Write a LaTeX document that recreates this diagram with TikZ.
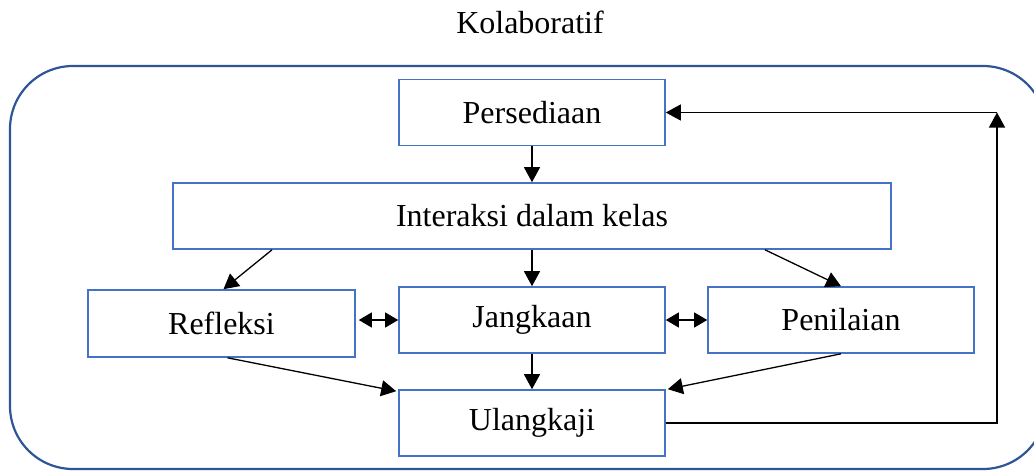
\documentclass[tikz,border=0pt]{standalone}
\usepackage{fontspec}
\setmainfont{Liberation Serif}
\usetikzlibrary{arrows.meta,calc}
\definecolor{boxblue}{HTML}{4472C4}
\definecolor{frameblue}{HTML}{2F5597}
\begin{document}
\begin{tikzpicture}[x=1pt,y=-1pt,
  stepbox/.style={draw=boxblue,line width=1.6pt,minimum width=266pt,minimum height=66pt,inner sep=0pt,font=\fontsize{32}{36}\selectfont},
  conn/.style={line width=1.3pt,-{Triangle[length=15pt,width=16pt]}},
  dconn/.style={line width=1.3pt,{Triangle[length=13pt,width=15pt]}-{Triangle[length=13pt,width=15pt]}}]
\useasboundingbox (0,0) rectangle (1034,471);
\draw[frameblue,line width=2.2pt,rounded corners=63pt] (10,66) rectangle (1046,469);
\node[font=\fontsize{32}{36}\selectfont] (title) at (530,22) {Kolaboratif};
\node[stepbox] (Persediaan) at (532,112.5) {Persediaan};
\node[stepbox,minimum width=718pt] (Interaksi) at (532,216) {Interaksi dalam kelas};
\node[stepbox,minimum width=267pt,minimum height=67pt] (Refleksi) at (221.5,323.5) {Refleksi};
\node[stepbox] (Jangkaan) at (532,320) {Jangkaan};
\node[stepbox] (Penilaian) at (841,320) {Penilaian};
\node[stepbox] (Ulangkaji) at (532,423) {Ulangkaji};
\coordinate (corner) at (997,112.5);
\draw[conn] (Persediaan.south) -- (Interaksi.north);
\draw[conn] ([xshift=-260pt]Interaksi.south) -- ([xshift=2pt]Refleksi.north);
\draw[conn] (Interaksi.south) -- (Jangkaan.north);
\draw[conn] ([xshift=233pt]Interaksi.south) -- (Penilaian.north);
\draw[dconn] ([xshift=3pt]Jangkaan.west -| Refleksi.east) -- (Jangkaan.west);
\draw[dconn] (Jangkaan.east) -- (Penilaian.west);
\draw[conn] ([xshift=6pt]Refleksi.south) -- ([xshift=-2pt,yshift=-2pt]Ulangkaji.north west);
\draw[conn] (Jangkaan.south) -- (Ulangkaji.north);
\draw[conn] (Penilaian.south) -- ([xshift=2pt]Ulangkaji.north east);
\draw[conn] (Ulangkaji.east) -| (corner);
\draw[conn] (corner) -- (Persediaan.east);
\end{tikzpicture}
\end{document}
